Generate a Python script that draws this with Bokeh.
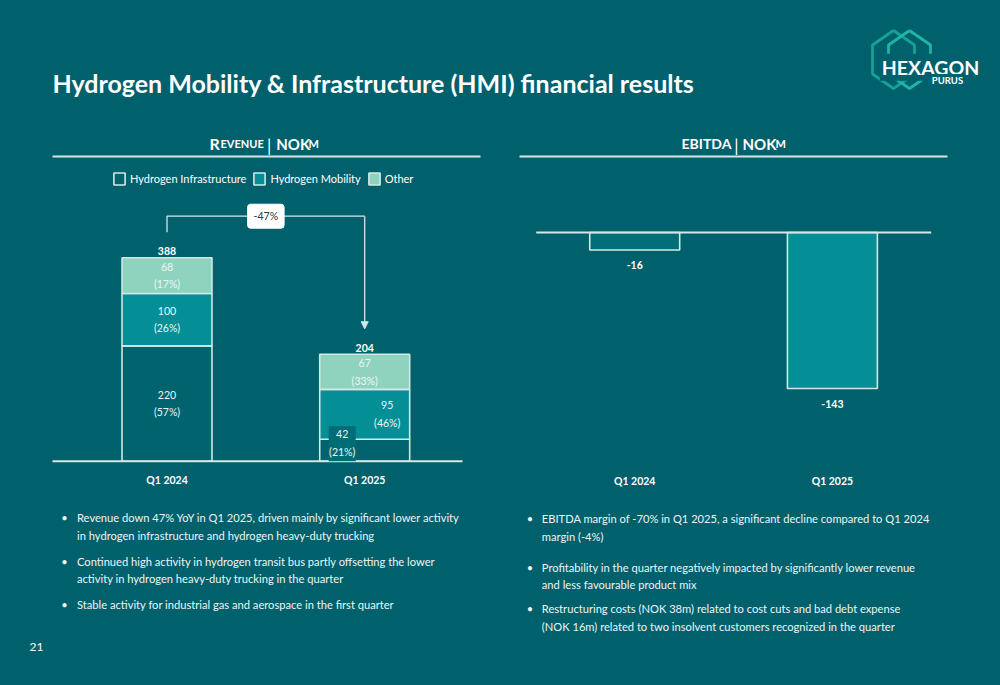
import math
from bokeh.plotting import figure
from bokeh.models import Range1d, ColumnDataSource, Legend, LegendItem, Arrow, NormalHead
from bokeh.core.properties import value
from bokeh.embed import file_html
from bokeh.resources import INLINE

# ------------------------------------------------------------------ data
quarters = ["Q1 2024", "Q1 2025"]
segments = ["Hydrogen Infrastructure", "Hydrogen Mobility", "Other"]
infra = [220, 42]
mobility = [100, 95]
other = [68, 67]
infra_pct = ["57%", "21%"]
mobility_pct = ["26%", "46%"]
other_pct = ["17%", "33%"]
ebitda = [-16, -143]

title = "Hydrogen Mobility & Infrastructure (HMI) financial results"
left_bullets = [
    ["Revenue down 47% YoY in Q1 2025, driven mainly by significant lower activity",
     "in hydrogen infrastructure and hydrogen heavy-duty trucking"],
    ["Continued high activity in hydrogen transit bus partly offsetting the lower",
     "activity in hydrogen heavy-duty trucking in the quarter"],
    ["Stable activity for industrial gas and aerospace in the first quarter"],
]
right_bullets = [
    ["EBITDA margin of -70% in Q1 2025, a significant decline compared to Q1 2024",
     "margin (-4%)"],
    ["Profitability in the quarter negatively impacted by significantly lower revenue",
     "and less favourable product mix"],
    ["Restructuring costs (NOK 38m) related to cost cuts and bad debt expense",
     "(NOK 16m) related to two insolvent customers recognized in the quarter"],
]
page_number = "21"

# ------------------------------------------------------------------ style
BG = "#00616D"
C_INFRA = "#00636E"
C_MOB = "#048F97"
C_OTHER = "#8FD3BF"
C_BOX = "#006C76"
C_EB = ["#006E77", "#048F97"]
EDGE = "#D3E7E7"
WHITE = "#FFFFFF"
TXT = "#EEF5F5"
LOGO1 = "#16A096"
LOGO2 = "#22B3A6"
FONT = "Lato"
LBL = "10.5px"

W, H = 984, 669
X0, Y0 = 0, 0                      # page offset of the canvas

SLOT = 197.7                       # px between categories
BAR_W = 0.455
REV_BASE, REV_PX, REV_X0 = 460.7, 0.5242, 166.5
EB_BASE, EB_PX, EB_X0 = 232.0, 156.0 / 143.0, 634.2

p = figure(width=W, height=H, output_backend="svg", toolbar_location=None,
           x_range=Range1d(X0, X0 + W), y_range=Range1d(Y0 + H, Y0),
           x_axis_type=None, y_axis_type=None, min_border=0)
p.background_fill_color = BG
p.border_fill_color = BG
p.outline_line_color = None
p.xgrid.visible = False
p.ygrid.visible = False

p.extra_x_ranges = {
    "rev_x": Range1d(-(REV_X0 - X0) / SLOT, (X0 + W - REV_X0) / SLOT),
    "eb_x": Range1d(-(EB_X0 - X0) / SLOT, (X0 + W - EB_X0) / SLOT),
}
p.extra_y_ranges = {
    "rev_y": Range1d(-(Y0 + H - REV_BASE) / REV_PX, (REV_BASE - Y0) / REV_PX),
    "eb_y": Range1d(-(Y0 + H - EB_BASE) / EB_PX, (EB_BASE - Y0) / EB_PX),
}


def txt(x, y, s, size, color=WHITE, bold=False, align="left", baseline="alphabetic", **kw):
    p.text(x=[x], y=[y], text=[s], text_font=value(FONT), text_font_size=f"{size}px",
           text_font_style="bold" if bold else "normal", text_color=color,
           text_align=align, text_baseline=baseline, **kw)


# ------------------------------------------------------------------ title & logo
txt(52, 82, title, 25, bold=True)


def hexagon(cx, cy, rx, ry):
    pts = [(0, -1), (1, -0.5), (1, 0.5), (0, 1), (-1, 0.5), (-1, -0.5), (0, -1)]
    return [cx + rx * a for a, b in pts], [cy + ry * b for a, b in pts]


for (cx, col) in [(893, LOGO1), (909, LOGO2)]:
    hx, hy = hexagon(cx, 59, 21, 29)
    p.line(hx, hy, line_color=col, line_width=2.8)
txt(930, 66.7, "HEXAGON", 19.5, bold=True, align="center",
    background_fill_color=BG, padding=2)
txt(947, 80, "PURUS", 9.5, bold=True, align="center",
    background_fill_color=BG, padding=1)

# ------------------------------------------------------------------ section headers
txt(209, 143.3, "R", 16, bold=True)
txt(220, 143.3, "EVENUE", 11, bold=True)
txt(268.7, 145, "|", 17, align="center")
txt(275.7, 143.3, "NOK", 15, bold=True)
txt(308, 143.3, "M", 11, bold=True)

txt(681, 143.3, "EBITDA", 14, bold=True)
txt(736, 145, "|", 17, align="center")
txt(742, 143.3, "NOK", 15, bold=True)
txt(775, 143.3, "M", 11, bold=True)

p.segment(x0=[52, 519], x1=[480, 947], y0=[156, 156], y1=[156, 156],
          line_color=EDGE, line_width=2.2)

# ------------------------------------------------------------------ revenue chart
idx = list(range(len(quarters)))
totals = [a + b + c for a, b, c in zip(infra, mobility, other)]
src = ColumnDataSource(dict(x=idx, infra=infra, mobility=mobility, other=other))
rs = p.vbar_stack(["infra", "mobility", "other"], x="x", width=BAR_W, source=src,
                  fill_color=[C_INFRA, C_MOB, C_OTHER], line_color=EDGE, line_width=1.6,
                  x_range_name="rev_x", y_range_name="rev_y")

# baseline
p.segment(x0=[52], x1=[462], y0=[0], y1=[0], y_range_name="rev_y",
          line_color=EDGE, line_width=2)

# segment labels (value line + share line); a small segment gets a boxed label beside
HALF = 8.8
BOX_W, BOX_H, BOX_DY = 27, 35, -6.5
lx, ly, lt, ldx, ldy = [], [], [], [], []
bx, by = [], []
for i in idx:
    small = infra[i] < 50
    base = 0
    for k, (vals, pcts) in enumerate([(infra, infra_pct), (mobility, mobility_pct), (other, other_pct)]):
        v = vals[i]
        mid = base + v / 2
        dx, dy = 0, 0
        if small and k == 0:
            dx, dy = -22.5, -7
            bx.append(i + dx / SLOT)
            by.append(mid - BOX_DY / REV_PX)
        elif small and k == 1:
            dx = 22.5
        for text, off in [(str(v), -HALF), (f"({pcts[i]})", HALF)]:
            lx.append(i); ly.append(mid); lt.append(text); ldx.append(dx); ldy.append(dy + off)
        base += v

p.rect(x=bx, y=by, width=BOX_W, height=BOX_H, width_units="screen", height_units="screen",
       fill_color=C_BOX, line_color=None, x_range_name="rev_x", y_range_name="rev_y")
lab = ColumnDataSource(dict(x=lx, y=ly, text=lt, dx=ldx, dy=ldy))
p.text(x="x", y="y", text="text", x_offset="dx", y_offset="dy", source=lab,
       text_font=value(FONT), text_font_size=LBL, text_color=TXT,
       text_align="center", text_baseline="middle",
       x_range_name="rev_x", y_range_name="rev_y")

# totals
p.text(x=idx, y=totals, text=[str(t) for t in totals], y_offset=-6.5,
       text_font=value(FONT), text_font_size=LBL, text_font_style="bold",
       text_color=WHITE, text_align="center", text_baseline="alphabetic",
       x_range_name="rev_x", y_range_name="rev_y")

# category labels
p.text(x=idx, y=[479] * len(idx), text=quarters, text_font=value(FONT),
       text_font_size=LBL, text_font_style="bold", text_color=WHITE,
       text_align="center", text_baseline="alphabetic", x_range_name="rev_x")

# change connector
chg = (totals[-1] - totals[0]) / totals[0] * 100
y_start = totals[0] + 25.6 / REV_PX
y_top = max(totals) + 41.6 / REV_PX
y_end = totals[-1] + 25.5 / REV_PX
p.line(x=[idx[0], idx[0], idx[-1]], y=[y_start, y_top, y_top], line_color=EDGE,
       line_width=1.3, x_range_name="rev_x", y_range_name="rev_y")
p.add_layout(Arrow(end=NormalHead(size=7, fill_color=EDGE, line_color=EDGE, line_width=1),
                   x_start=idx[-1], y_start=y_top, x_end=idx[-1], y_end=y_end,
                   line_color=EDGE, line_width=1.3,
                   x_range_name="rev_x", y_range_name="rev_y"))
p.text(x=[(idx[0] + idx[-1]) / 2], y=[y_top], text=[f"{chg:.0f}%"],
       text_font=value(FONT), text_font_size=LBL, text_color="#263B40",
       text_align="center", text_baseline="middle",
       background_fill_color="#FFFFFF", border_line_color="#FFFFFF",
       padding=dict(left=6, right=6, top=6, bottom=6), border_radius=3,
       x_range_name="rev_x", y_range_name="rev_y")

# legend
legend = Legend(items=[LegendItem(label=segments[k], renderers=[rs[k]]) for k in range(3)],
                location=(112 - X0, Y0 + H - 186), orientation="horizontal",
                background_fill_alpha=0, border_line_alpha=0, padding=0, margin=0,
                spacing=6, glyph_width=14, glyph_height=15, label_height=15,
                label_standoff=4, label_text_font=FONT, label_text_font_size="11px",
                label_text_color=WHITE)
p.add_layout(legend)

# ------------------------------------------------------------------ EBITDA chart
esrc = ColumnDataSource(dict(x=idx, v=ebitda, c=C_EB))
p.vbar(x="x", top=0, bottom="v", width=BAR_W, source=esrc, fill_color="c",
       line_color=EDGE, line_width=1.6, x_range_name="eb_x", y_range_name="eb_y")
p.segment(x0=[535.7], x1=[930.7], y0=[0], y1=[0], y_range_name="eb_y",
          line_color=EDGE, line_width=2)
p.text(x=idx, y=ebitda, text=[str(v) for v in ebitda], y_offset=15,
       text_font=value(FONT), text_font_size=LBL, text_font_style="bold",
       text_color=WHITE, text_align="center", text_baseline="alphabetic",
       x_range_name="eb_x", y_range_name="eb_y")
p.text(x=idx, y=[480] * len(idx), text=quarters, text_font=value(FONT),
       text_font_size=LBL, text_font_style="bold", text_color=WHITE,
       text_align="center", text_baseline="alphabetic", x_range_name="eb_x")

# ------------------------------------------------------------------ bullets
LINE = 17.6
BUL = 11.15


def bullets(items, starts, bx_, tx):
    for lines, y in zip(items, starts):
        txt(bx_, y, "\u2022", BUL, color=TXT, align="center")
        for j, line in enumerate(lines):
            txt(tx, y + j * LINE, line, BUL, color=TXT)


bullets(left_bullets, [517.3, 560.7, 604.0], 64, 76.5)
bullets(right_bullets, [518.3, 566.7, 608.3], 529.5, 541.3)

txt(29, 646.7, page_number, 12, color=WHITE)

TEMPLATE = """{% block postamble %}<style>html, body { background-color: #00616D; }</style>{% endblock %}"""
open("out.html", "w").write(file_html(p, INLINE, template=TEMPLATE))
